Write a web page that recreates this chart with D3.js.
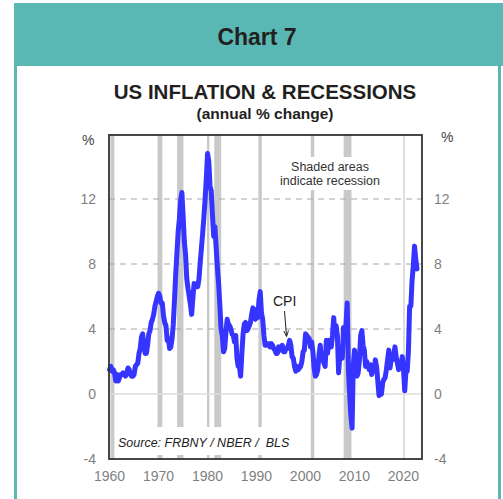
<!DOCTYPE html>
<html>
<head>
<meta charset="utf-8">
<script src="https://cdn.jsdelivr.net/npm/d3@7"></script>
<style>
  html, body { margin: 0; padding: 0; background: #fff; }
  svg { display: block; font-family: "Liberation Sans", Arial, sans-serif; }
</style>
</head>
<body>
<svg id="chart" width="503" height="499"></svg>
<script>
// US CPI inflation, annual % change, quarterly readings from 1960 Q1 to 2022 Q4
const startYear = 1960;
const cpi = [
  1.5, 1.7, 1.4, 1.5,   // 1960
  1.3, 0.8, 1.2, 0.8,   // 1961
  1.0, 1.2, 1.2, 1.3,   // 1962
  1.2, 1.1, 1.3, 1.6,   // 1963
  1.5, 1.2, 1.1, 1.1,   // 1964
  1.2, 1.7, 1.8, 1.9,   // 1965
  2.5, 2.8, 3.5, 3.7,   // 1966
  2.9, 2.5, 2.5, 3.0,   // 1967
  3.7, 3.9, 4.4, 4.6,   // 1968
  4.9, 5.4, 5.7, 6.0,   // 1969
  6.2, 6.0, 5.6, 5.6,   // 1970
  4.8, 4.4, 4.2, 3.3,   // 1971
  3.4, 2.8, 2.9, 3.4,   // 1972
  4.3, 5.8, 7.4, 8.7,   // 1973
  10.0, 10.8, 11.9, 12.4, // 1974
  11.0, 9.4, 8.6, 7.1,  // 1975
  6.5, 6.0, 5.5, 4.9,   // 1976
  5.9, 6.8, 6.6, 6.6,   // 1977
  6.6, 7.1, 8.1, 9.0,   // 1978
  9.9, 10.9, 12.0, 13.3, // 1979
  14.8, 14.3, 12.8, 12.5, // 1980
  11.0, 9.7, 10.3, 9.0, // 1981
  7.8, 6.8, 5.5, 4.0,   // 1982
  3.6, 2.6, 2.8, 3.8,   // 1983
  4.6, 4.3, 4.2, 4.0,   // 1984
  3.7, 3.6, 3.2, 3.6,   // 1985
  2.2, 1.7, 1.7, 1.1,   // 1986
  2.5, 3.7, 4.3, 4.4,   // 1987
  3.9, 4.0, 4.2, 4.4,   // 1988
  4.9, 5.3, 4.7, 4.6,   // 1989
  5.2, 4.7, 5.8, 6.3,   // 1990
  5.0, 4.6, 3.6, 3.0,   // 1991
  3.0, 3.1, 3.1, 2.9,   // 1992
  3.1, 3.0, 2.8, 2.7,   // 1993
  2.5, 2.5, 2.9, 2.7,   // 1994
  2.8, 3.0, 2.6, 2.6,   // 1995
  2.8, 2.8, 3.0, 3.3,   // 1996
  3.0, 2.3, 2.2, 1.7,   // 1997
  1.4, 1.7, 1.5, 1.6,   // 1998
  1.7, 2.0, 2.6, 2.7,   // 1999
  3.7, 3.6, 3.5, 3.4,   // 2000
  2.9, 3.2, 2.6, 1.6,   // 2001
  1.1, 1.2, 1.5, 2.4,   // 2002
  3.0, 2.1, 2.3, 1.9,   // 2003
  1.7, 3.3, 2.5, 3.3,   // 2004
  3.0, 2.9, 3.6, 4.7,   // 2005
  3.7, 4.2, 3.6, 1.3,   // 2006
  2.4, 2.7, 2.2, 4.1,   // 2007
  4.1, 4.2, 5.6, 1.5,   // 2008
  0.0, -1.3, -2.1, 1.8, // 2009
  2.7, 2.0, 1.1, 1.3,   // 2010
  2.1, 3.6, 3.9, 3.0,   // 2011
  2.7, 1.7, 2.0, 1.7,   // 2012
  1.5, 1.8, 1.2, 1.5,   // 2013
  1.5, 2.1, 1.7, 0.8,   // 2014
  -0.1, 0.1, 0.0, 0.7,  // 2015
  0.9, 1.0, 1.5, 2.1,   // 2016
  2.7, 1.6, 2.2, 2.1,   // 2017
  2.4, 2.9, 2.3, 1.9,   // 2018
  1.5, 1.8, 1.7, 2.3,   // 2019
  1.5, 0.2, 1.4, 1.4,   // 2020
  2.6, 5.4, 5.4, 7.0,   // 2021
  7.9, 9.1, 8.3, 7.7    // 2022
];

// NBER recession periods (start, end) as decimal years
const recessionStart = [1960.3, 1969.9, 1973.9, 1980.0, 1981.5, 1990.5, 2001.2, 2007.9, 2020.1];
const recessionEnd   = [1961.1, 1970.9, 1975.2, 1980.5, 1982.9, 1991.2, 2001.9, 2009.5, 2020.35];

const yTicks = [-4, 0, 4, 8, 12];
const gridLevels = [4, 8, 12];
const xTicks = [1960, 1970, 1980, 1990, 2000, 2010, 2020];

const svg = d3.select("#chart");
const teal = "#5ab8b4";
const FONT = "'Liberation Sans', Arial, sans-serif";

// Header band and panel outline
svg.append("rect").attr("x", 14).attr("y", 3).attr("width", 489).attr("height", 63).attr("fill", teal);
svg.append("rect").attr("x", 14).attr("y", 60).attr("width", 3).attr("height", 439).attr("fill", teal);
svg.append("rect").attr("x", 498).attr("y", 60).attr("width", 3).attr("height", 439).attr("fill", teal);

svg.append("text").attr("x", 257).attr("y", 45).attr("text-anchor", "middle")
  .attr("font-size", 23).attr("font-weight", "bold").attr("fill", "#231f20").text("Chart 7");

svg.append("text").attr("x", 265).attr("y", 99).attr("text-anchor", "middle")
  .attr("font-size", 20.5).attr("font-weight", "bold").attr("fill", "#231f20").text("US INFLATION & RECESSIONS");
svg.append("text").attr("x", 265).attr("y", 119).attr("text-anchor", "middle")
  .attr("font-size", 15.5).attr("font-weight", "bold").attr("fill", "#231f20").text("(annual % change)");

// Plot area
const pLeft = 109, pRight = 422, pTop = 134, pBottom = 459;
const x = d3.scaleLinear().domain([1960, 2023.9]).range([pLeft, pRight]);
const y = d3.scaleLinear().domain([-4, 16]).range([pBottom, pTop]);

const plot = svg.append("g");

// Recession shading
plot.selectAll("rect.rec").data(recessionStart.map((s, i) => [s, recessionEnd[i]]))
  .enter().append("rect").attr("class", "rec")
  .attr("x", d => x(d[0])).attr("width", d => Math.max(1.2, x(d[1]) - x(d[0])))
  .attr("y", pTop).attr("height", pBottom - pTop).attr("fill", "#c9c9c9");

// Zero line and dashed gridlines
plot.append("line").attr("x1", pLeft).attr("x2", pRight).attr("y1", y(0)).attr("y2", y(0))
  .attr("stroke", "#dcdcdc").attr("stroke-width", 1.5);
plot.selectAll("line.grid").data(gridLevels).enter().append("line").attr("class", "grid")
  .attr("x1", pLeft).attr("x2", pRight).attr("y1", d => y(d)).attr("y2", d => y(d))
  .attr("stroke", "#a8a8a8").attr("stroke-width", 1.2).attr("stroke-dasharray", "6,5");

// Note boxes
svg.append("rect").attr("x", 277).attr("y", 157).attr("width", 106).attr("height", 33).attr("fill", "#fff");
svg.append("text").attr("x", 330).attr("y", 171).attr("text-anchor", "middle")
  .attr("font-size", 12.5).attr("fill", "#333").text("Shaded areas");
svg.append("text").attr("x", 330).attr("y", 185).attr("text-anchor", "middle")
  .attr("font-size", 12.5).attr("fill", "#333").text("indicate recession");

svg.append("rect").attr("x", 115).attr("y", 427).attr("width", 190).attr("height", 28).attr("fill", "#fff");
svg.append("text").attr("x", 118).attr("y", 447).attr("font-size", 12.5).attr("font-style", "italic")
  .attr("fill", "#222").attr("xml:space", "preserve").text("Source: FRBNY / NBER /  BLS");

// CPI line
const series = cpi.map((v, i) => ({ t: startYear + i / 4 + 0.125, v }));
const line = d3.line().x(d => x(d.t)).y(d => y(d.v)).curve(d3.curveLinear);
plot.append("path").datum(series).attr("d", line)
  .attr("fill", "none").attr("stroke", "#3535ff").attr("stroke-width", 5)
  .attr("stroke-linejoin", "round").attr("stroke-linecap", "round");

// Frame
svg.append("rect").attr("x", pLeft).attr("y", pTop + 1).attr("width", pRight - pLeft).attr("height", pBottom - pTop - 1)
  .attr("fill", "none").attr("stroke", "#333").attr("stroke-width", 1.8);

// Axes (plain hyphen for negative labels)
const fmt = d => String(d);
const axisL = d3.axisLeft(y).tickValues(yTicks).tickSize(0).tickPadding(13).tickFormat(fmt);
const axisR = d3.axisRight(y).tickValues(yTicks).tickSize(0).tickPadding(12).tickFormat(fmt);
const axisB = d3.axisBottom(x).tickValues(xTicks).tickSize(0).tickPadding(12).tickFormat(fmt);

function styleAxis(g) {
  g.select(".domain").remove();
  g.selectAll("text").attr("font-size", 14).attr("fill", "#7f7f7f").attr("font-family", FONT);
}
svg.append("g").attr("transform", `translate(${pLeft},0)`).call(axisL).call(styleAxis);
svg.append("g").attr("transform", `translate(${pRight},0)`).call(axisR).call(styleAxis);
svg.append("g").attr("transform", `translate(0,${pBottom})`).call(axisB).call(styleAxis);

svg.append("text").attr("x", 82).attr("y", 145).attr("font-size", 14).attr("fill", "#444").text("%");
svg.append("text").attr("x", 441).attr("y", 142).attr("font-size", 14).attr("fill", "#444").text("%");

// CPI label with arrow
svg.append("defs").append("marker").attr("id", "arrow").attr("viewBox", "0 0 10 10")
  .attr("refX", 9).attr("refY", 5).attr("markerWidth", 6).attr("markerHeight", 6).attr("orient", "auto")
  .append("path").attr("d", "M0,1 L10,5 L0,9").attr("fill", "none").attr("stroke", "#222").attr("stroke-width", 1.5);
svg.append("text").attr("x", 273).attr("y", 306).attr("font-size", 14).attr("fill", "#222").text("CPI");
svg.append("line").attr("x1", 284.5).attr("y1", 311).attr("x2", 286.5).attr("y2", 336)
  .attr("stroke", "#222").attr("stroke-width", 1).attr("marker-end", "url(#arrow)");
</script>
</body>
</html>
